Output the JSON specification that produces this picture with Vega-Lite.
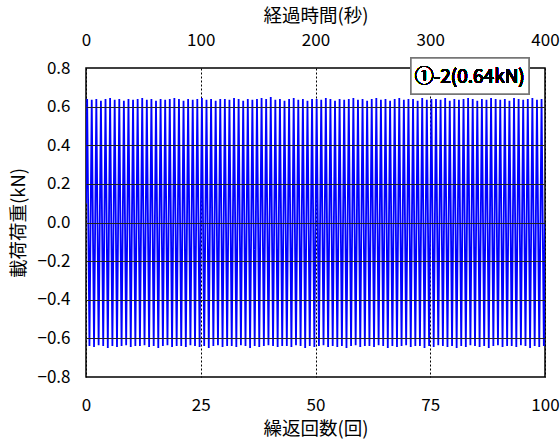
{
"$schema":"https://vega.github.io/schema/vega-lite/v6.json",
"width":459,"height":309,
"autosize":{"type":"none"},
"padding":{"left":86,"top":68,"right":15,"bottom":62},
"background":"white",
"config":{"font":"Noto Sans CJK JP","view":{"stroke":"#000","strokeWidth":1.5},
"axis":{"labelFont":"Noto Sans CJK JP","titleFont":"Noto Sans CJK JP","labelColor":"#000","titleColor":"#000","labelFontSize":17,"titleFontSize":18.5,"titleFontWeight":"normal","ticks":false,"domain":false,"labelOverlap":false}},
"data":{"values":[
{"c":0,"f":0.1},
{"c":0.25,"f":0.64},{"c":0.75,"f":-0.64},{"c":1.25,"f":0.635},{"c":1.75,"f":-0.645},{"c":2.25,"f":0.64},{"c":2.75,"f":-0.635},{"c":3.25,"f":0.63},{"c":3.75,"f":-0.64},{"c":4.25,"f":0.64},{"c":4.75,"f":-0.65},
{"c":5.25,"f":0.645},{"c":5.75,"f":-0.64},{"c":6.25,"f":0.635},{"c":6.75,"f":-0.645},{"c":7.25,"f":0.64},{"c":7.75,"f":-0.64},{"c":8.25,"f":0.63},{"c":8.75,"f":-0.635},{"c":9.25,"f":0.64},{"c":9.75,"f":-0.645},
{"c":10.25,"f":0.635},{"c":10.75,"f":-0.64},{"c":11.25,"f":0.64},{"c":11.75,"f":-0.64},{"c":12.25,"f":0.645},{"c":12.75,"f":-0.635},{"c":13.25,"f":0.635},{"c":13.75,"f":-0.645},{"c":14.25,"f":0.64},{"c":14.75,"f":-0.64},
{"c":15.25,"f":0.63},{"c":15.75,"f":-0.65},{"c":16.25,"f":0.64},{"c":16.75,"f":-0.64},{"c":17.25,"f":0.635},{"c":17.75,"f":-0.635},{"c":18.25,"f":0.64},{"c":18.75,"f":-0.645},{"c":19.25,"f":0.645},{"c":19.75,"f":-0.64},
{"c":20.25,"f":0.64},{"c":20.75,"f":-0.64},{"c":21.25,"f":0.63},{"c":21.75,"f":-0.645},{"c":22.25,"f":0.64},{"c":22.75,"f":-0.635},{"c":23.25,"f":0.635},{"c":23.75,"f":-0.64},{"c":24.25,"f":0.64},{"c":24.75,"f":-0.645},
{"c":25.25,"f":0.645},{"c":25.75,"f":-0.64},{"c":26.25,"f":0.635},{"c":26.75,"f":-0.65},{"c":27.25,"f":0.64},{"c":27.75,"f":-0.64},{"c":28.25,"f":0.63},{"c":28.75,"f":-0.635},{"c":29.25,"f":0.64},{"c":29.75,"f":-0.645},
{"c":30.25,"f":0.64},{"c":30.75,"f":-0.64},{"c":31.25,"f":0.635},{"c":31.75,"f":-0.64},{"c":32.25,"f":0.645},{"c":32.75,"f":-0.645},{"c":33.25,"f":0.64},{"c":33.75,"f":-0.635},{"c":34.25,"f":0.63},{"c":34.75,"f":-0.64},
{"c":35.25,"f":0.64},{"c":35.75,"f":-0.65},{"c":36.25,"f":0.635},{"c":36.75,"f":-0.64},{"c":37.25,"f":0.64},{"c":37.75,"f":-0.645},{"c":38.25,"f":0.645},{"c":38.75,"f":-0.64},{"c":39.25,"f":0.64},{"c":39.75,"f":-0.635},
{"c":40.25,"f":0.65},{"c":40.75,"f":-0.64},{"c":41.25,"f":0.635},{"c":41.75,"f":-0.645},{"c":42.25,"f":0.64},{"c":42.75,"f":-0.64},{"c":43.25,"f":0.63},{"c":43.75,"f":-0.64},{"c":44.25,"f":0.64},{"c":44.75,"f":-0.645},
{"c":45.25,"f":0.645},{"c":45.75,"f":-0.635},{"c":46.25,"f":0.635},{"c":46.75,"f":-0.64},{"c":47.25,"f":0.64},{"c":47.75,"f":-0.65},{"c":48.25,"f":0.63},{"c":48.75,"f":-0.64},{"c":49.25,"f":0.64},{"c":49.75,"f":-0.645},
{"c":50.25,"f":0.64},{"c":50.75,"f":-0.64},{"c":51.25,"f":0.635},{"c":51.75,"f":-0.635},{"c":52.25,"f":0.645},{"c":52.75,"f":-0.645},{"c":53.25,"f":0.64},{"c":53.75,"f":-0.64},{"c":54.25,"f":0.63},{"c":54.75,"f":-0.645},
{"c":55.25,"f":0.64},{"c":55.75,"f":-0.64},{"c":56.25,"f":0.635},{"c":56.75,"f":-0.65},{"c":57.25,"f":0.64},{"c":57.75,"f":-0.64},{"c":58.25,"f":0.645},{"c":58.75,"f":-0.635},{"c":59.25,"f":0.635},{"c":59.75,"f":-0.645},
{"c":60.25,"f":0.64},{"c":60.75,"f":-0.64},{"c":61.25,"f":0.63},{"c":61.75,"f":-0.64},{"c":62.25,"f":0.64},{"c":62.75,"f":-0.645},{"c":63.25,"f":0.645},{"c":63.75,"f":-0.635},{"c":64.25,"f":0.635},{"c":64.75,"f":-0.64},
{"c":65.25,"f":0.64},{"c":65.75,"f":-0.65},{"c":66.25,"f":0.63},{"c":66.75,"f":-0.64},{"c":67.25,"f":0.64},{"c":67.75,"f":-0.645},{"c":68.25,"f":0.645},{"c":68.75,"f":-0.64},{"c":69.25,"f":0.635},{"c":69.75,"f":-0.635},
{"c":70.25,"f":0.64},{"c":70.75,"f":-0.645},{"c":71.25,"f":0.64},{"c":71.75,"f":-0.64},{"c":72.25,"f":0.63},{"c":72.75,"f":-0.64},{"c":73.25,"f":0.645},{"c":73.75,"f":-0.65},{"c":74.25,"f":0.635},{"c":74.75,"f":-0.64},
{"c":75.25,"f":0.64},{"c":75.75,"f":-0.645},{"c":76.25,"f":0.64},{"c":76.75,"f":-0.635},{"c":77.25,"f":0.635},{"c":77.75,"f":-0.64},{"c":78.25,"f":0.645},{"c":78.75,"f":-0.645},{"c":79.25,"f":0.63},{"c":79.75,"f":-0.64},
{"c":80.25,"f":0.64},{"c":80.75,"f":-0.65},{"c":81.25,"f":0.635},{"c":81.75,"f":-0.64},{"c":82.25,"f":0.64},{"c":82.75,"f":-0.645},{"c":83.25,"f":0.645},{"c":83.75,"f":-0.635},{"c":84.25,"f":0.64},{"c":84.75,"f":-0.64},
{"c":85.25,"f":0.63},{"c":85.75,"f":-0.645},{"c":86.25,"f":0.64},{"c":86.75,"f":-0.64},{"c":87.25,"f":0.635},{"c":87.75,"f":-0.65},{"c":88.25,"f":0.645},{"c":88.75,"f":-0.64},{"c":89.25,"f":0.64},{"c":89.75,"f":-0.635},
{"c":90.25,"f":0.635},{"c":90.75,"f":-0.645},{"c":91.25,"f":0.64},{"c":91.75,"f":-0.64},{"c":92.25,"f":0.63},{"c":92.75,"f":-0.64},{"c":93.25,"f":0.645},{"c":93.75,"f":-0.645},{"c":94.25,"f":0.64},{"c":94.75,"f":-0.635},
{"c":95.25,"f":0.635},{"c":95.75,"f":-0.64},{"c":96.25,"f":0.64},{"c":96.75,"f":-0.65},{"c":97.25,"f":0.645},{"c":97.75,"f":-0.64},{"c":98.25,"f":0.635},{"c":98.75,"f":-0.645},{"c":99.25,"f":0.64},{"c":99.75,"f":-0.64},
{"c":100,"f":0.0}
]},
"layer":[
{"mark":{"type":"line","color":"#0000FF","strokeWidth":1.8,"clip":true},
 "encoding":{
  "x":{"field":"c","type":"quantitative","scale":{"domain":[0,100],"nice":false},
   "axis":{"orient":"bottom","values":[0,25,50,75,100],"labelPadding":20,"title":"繰返回数(回)","titlePadding":6,"grid":true,"gridColor":"#000","gridDash":[2,2],"gridWidth":1,"labelFlush":false,"zindex":0}},
  "y":{"field":"f","type":"quantitative","scale":{"domain":[-0.8,0.8],"nice":false},
   "axis":{"values":[-0.8,-0.6,-0.4,-0.2,0,0.2,0.4,0.6,0.8],"format":".1f","labelPadding":16,"title":"載荷荷重(kN)","titlePadding":8.5,"grid":true,"gridColor":"#222","gridWidth":1,"gridOpacity":{"condition":{"test":"abs(datum.value) > 0.7","value":0},"value":1},"labelFlush":false,"zindex":1}}
 }},
{"mark":{"type":"rect","fill":"white","stroke":"#777","strokeWidth":1.5},
 "encoding":{
  "x":{"datum":70.8,"type":"quantitative","axis":{"orient":"top","values":[0,25,50,75,100],"labelExpr":"datum.value*4","labelPadding":18.5,"title":"経過時間(秒)","titlePadding":6,"grid":false,"labelFlush":false}},
  "x2":{"datum":96.5},
  "y":{"datum":0.852,"type":"quantitative","axis":null},
  "y2":{"datum":0.665}
 }},
{"mark":{"type":"text","font":"Noto Sans CJK JP","fontSize":19,"color":"#000"},
 "encoding":{
  "x":{"datum":83.6,"type":"quantitative","axis":null},
  "y":{"datum":0.753,"type":"quantitative","axis":null},
  "text":{"value":"①-2(0.64kN)"}
 }}
],
"resolve":{"axis":{"x":"independent","y":"independent"}}
}
